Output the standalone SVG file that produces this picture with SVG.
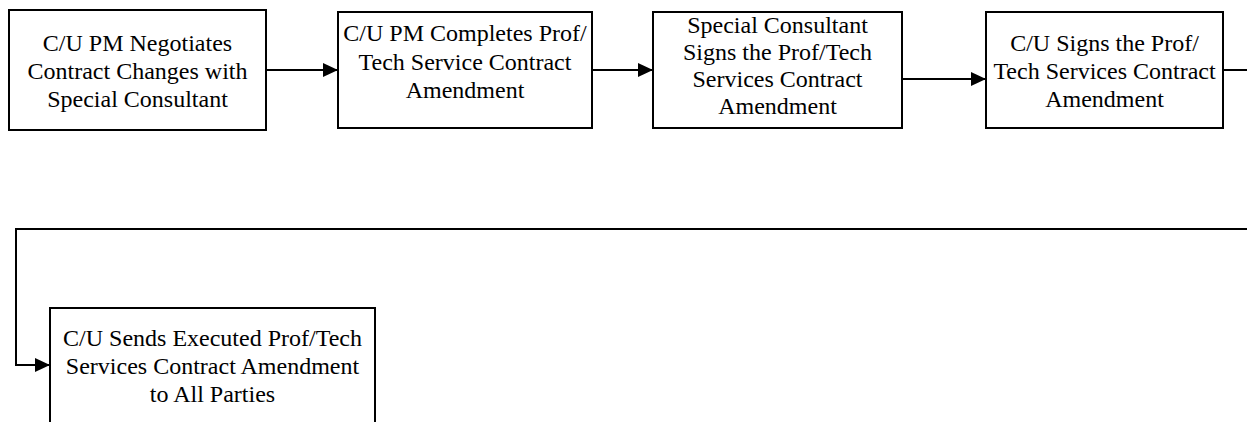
<svg xmlns="http://www.w3.org/2000/svg" width="1247" height="422" viewBox="0 0 1247 422">
<style>
.box{fill:#fff;stroke:#000;stroke-width:2}
.t{font-family:'Liberation Serif',serif;font-size:24px;fill:#000;text-anchor:middle}
.c{fill:none;stroke:#000;stroke-width:2}
</style>
<defs>
<marker id="ah" markerUnits="userSpaceOnUse" markerWidth="16" markerHeight="14" refX="15" refY="7" orient="auto">
<path d="M0,0 L15,7 L0,14 Z" fill="#000"/>
</marker>
</defs>
<rect width="1247" height="422" fill="#fff"/>
<g id="connectors">
<path class="c" d="M266,70 H338" marker-end="url(#ah)"/>
<path class="c" d="M592,70 H653" marker-end="url(#ah)"/>
<path class="c" d="M902,79 H986" marker-end="url(#ah)"/>
<path class="c" d="M1223,70 H1250"/>
<path class="c" d="M1250,229 H16 V365 H50" marker-end="url(#ah)"/>
</g>
<g id="n1" font-family="Liberation Serif, serif">
<rect class="box" x="9" y="10" width="257" height="120"/>
<text class="t" x="137.5" y="51">C/U PM Negotiates</text>
<text class="t" x="137.5" y="79">Contract Changes with</text>
<text class="t" x="137.5" y="107">Special Consultant</text>
</g>
<g id="n2" font-family="Liberation Serif, serif">
<rect class="box" x="338" y="12" width="254" height="116"/>
<text class="t" x="465" y="41">C/U PM Completes Prof/</text>
<text class="t" x="465" y="70">Tech Service Contract</text>
<text class="t" x="465" y="98">Amendment</text>
</g>
<g id="n3" font-family="Liberation Serif, serif">
<rect class="box" x="653" y="12" width="249" height="116"/>
<text class="t" x="777.5" y="33">Special Consultant</text>
<text class="t" x="777.5" y="60">Signs the Prof/Tech</text>
<text class="t" x="777.5" y="87">Services Contract</text>
<text class="t" x="777.5" y="114">Amendment</text>
</g>
<g id="n4" font-family="Liberation Serif, serif">
<rect class="box" x="986" y="12" width="237" height="116"/>
<text class="t" x="1104.5" y="51">C/U Signs the Prof/</text>
<text class="t" x="1104.5" y="79">Tech Services Contract</text>
<text class="t" x="1104.5" y="107">Amendment</text>
</g>
<g id="n5" font-family="Liberation Serif, serif">
<rect class="box" x="50" y="308" width="325" height="140"/>
<text class="t" x="212.5" y="346">C/U Sends Executed Prof/Tech</text>
<text class="t" x="212.5" y="374">Services Contract Amendment</text>
<text class="t" x="212.5" y="402">to All Parties</text>
</g>
</svg>
